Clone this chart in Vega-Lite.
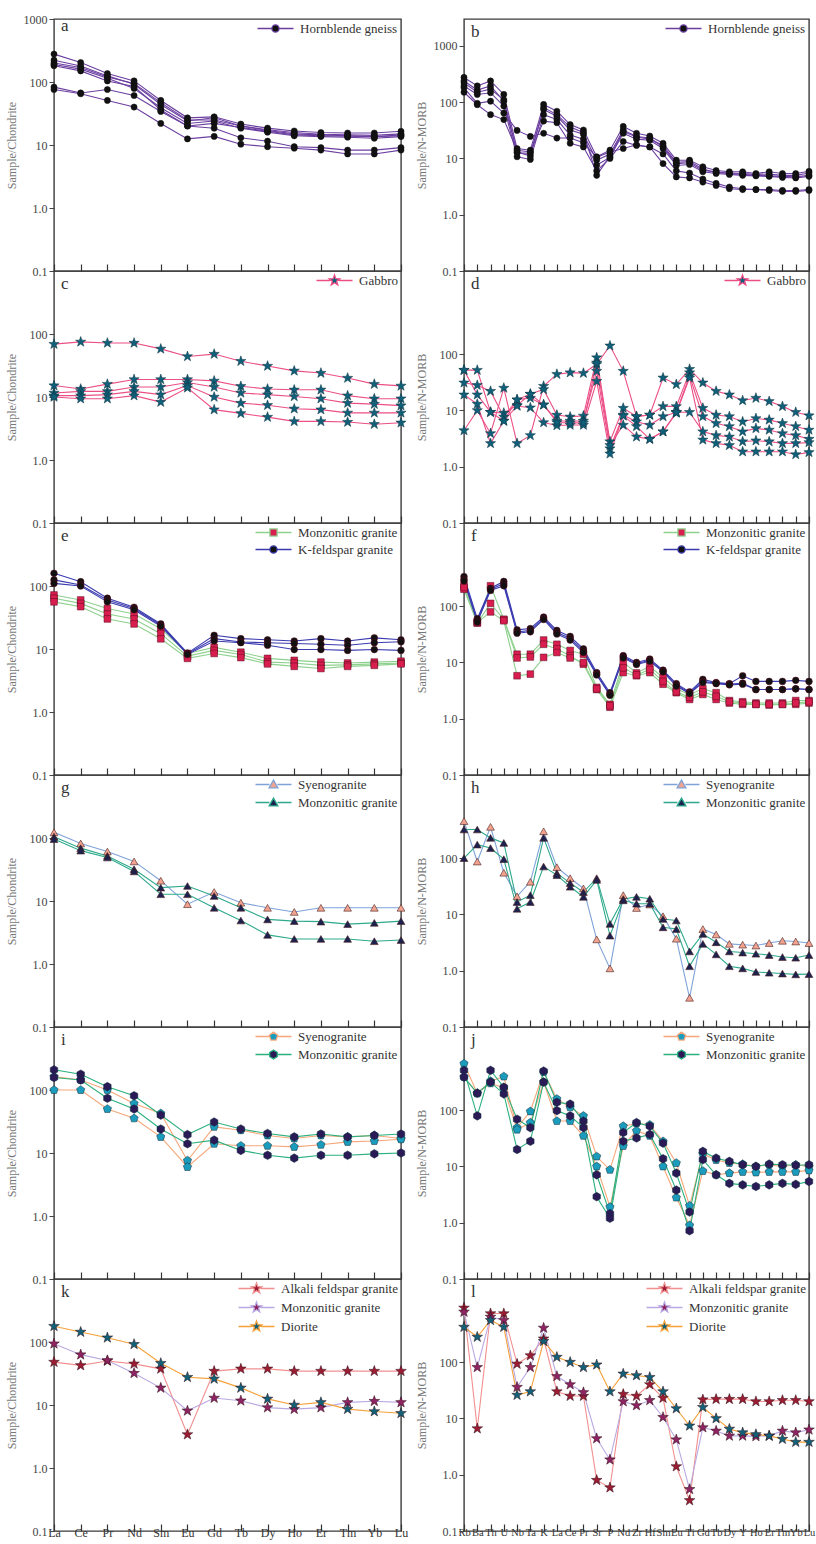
{
"$schema":"https://vega.github.io/schema/vega-lite/v6.json",
"padding":{"left":4,"top":12,"right":4,"bottom":4},
"columns":2,
"spacing":{"row":0,"column":63},
"bounds":"flush",
"resolve":{"scale":{"x":"independent","y":"independent","color":"independent","fill":"independent","shape":"independent","stroke":"independent"}},
"config":{
 "font":"Liberation Serif",
 "view":{"stroke":"#3a3a3a","strokeWidth":1.4},
 "axis":{"domain":false,"grid":false,"labelFont":"Liberation Serif","titleFont":"Liberation Serif"},
 "axisX":{"title":null,"tickSize":-7,"tickColor":"#333","tickWidth":1.2,"labelFontSize":12,"labelColor":"#333","labelAngle":0,"labelPadding":3,"labelOverlap":false},
 "axisY":{"tickSize":5,"tickColor":"#444","labelFontSize":12,"labelColor":"#444","labelPadding":2,"minExtent":32,"maxExtent":32,"titlePadding":4,"titleColor":"#777","titleFontSize":12,"titleFontWeight":"normal","labelExpr":"datum.value < 0.5 ? '0.1' : datum.value < 5 ? '1.0' : datum.value < 50 ? '10' : datum.value < 500 ? '100' : '1000'"},
 "legend":{"orient":"top-right","offset":3,"padding":0,"labelFont":"Liberation Serif","labelFontSize":13,"labelColor":"#333","symbolSize":64,"labelOffset":18,"rowPadding":3,"symbolOpacity":1,"symbolStrokeWidth":1.3,"labelLimit":260},
 "title":{"anchor":"start","frame":"group","offset":-22,"dx":7,"fontSize":17,"fontWeight":"normal","font":"Liberation Serif","color":"#333"}
},
"datasets":{
"a":[
{"g":"H","s":1,"e":"La","v":277},{"g":"H","s":1,"e":"Ce","v":204},{"g":"H","s":1,"e":"Pr","v":136},{"g":"H","s":1,"e":"Nd","v":104},{"g":"H","s":1,"e":"Sm","v":51},{"g":"H","s":1,"e":"Eu","v":27},{"g":"H","s":1,"e":"Gd","v":28},{"g":"H","s":1,"e":"Tb","v":21.5},{"g":"H","s":1,"e":"Dy","v":18.5},{"g":"H","s":1,"e":"Ho","v":16.7},{"g":"H","s":1,"e":"Er","v":15.8},{"g":"H","s":1,"e":"Tm","v":15.5},{"g":"H","s":1,"e":"Yb","v":15.5},{"g":"H","s":1,"e":"Lu","v":16.5},
{"g":"H","s":2,"e":"La","v":222},{"g":"H","s":2,"e":"Ce","v":180},{"g":"H","s":2,"e":"Pr","v":125},{"g":"H","s":2,"e":"Nd","v":92},{"g":"H","s":2,"e":"Sm","v":44},{"g":"H","s":2,"e":"Eu","v":24},{"g":"H","s":2,"e":"Gd","v":27},{"g":"H","s":2,"e":"Tb","v":20},{"g":"H","s":2,"e":"Dy","v":17.5},{"g":"H","s":2,"e":"Ho","v":15.8},{"g":"H","s":2,"e":"Er","v":14.8},{"g":"H","s":2,"e":"Tm","v":14.5},{"g":"H","s":2,"e":"Yb","v":14.2},{"g":"H","s":2,"e":"Lu","v":15},
{"g":"H","s":3,"e":"La","v":190},{"g":"H","s":3,"e":"Ce","v":160},{"g":"H","s":3,"e":"Pr","v":115},{"g":"H","s":3,"e":"Nd","v":79},{"g":"H","s":3,"e":"Sm","v":39},{"g":"H","s":3,"e":"Eu","v":22},{"g":"H","s":3,"e":"Gd","v":24},{"g":"H","s":3,"e":"Tb","v":18.5},{"g":"H","s":3,"e":"Dy","v":16},{"g":"H","s":3,"e":"Ho","v":14},{"g":"H","s":3,"e":"Er","v":13.6},{"g":"H","s":3,"e":"Tm","v":13.3},{"g":"H","s":3,"e":"Yb","v":12.8},{"g":"H","s":3,"e":"Lu","v":13.6},
{"g":"H","s":4,"e":"La","v":181},{"g":"H","s":4,"e":"Ce","v":150},{"g":"H","s":4,"e":"Pr","v":104},{"g":"H","s":4,"e":"Nd","v":85},{"g":"H","s":4,"e":"Sm","v":36},{"g":"H","s":4,"e":"Eu","v":20},{"g":"H","s":4,"e":"Gd","v":22},{"g":"H","s":4,"e":"Tb","v":19},{"g":"H","s":4,"e":"Dy","v":16.5},{"g":"H","s":4,"e":"Ho","v":14.5},{"g":"H","s":4,"e":"Er","v":14},{"g":"H","s":4,"e":"Tm","v":13.8},{"g":"H","s":4,"e":"Yb","v":13.5},{"g":"H","s":4,"e":"Lu","v":14.5},
{"g":"H","s":5,"e":"La","v":200},{"g":"H","s":5,"e":"Ce","v":170},{"g":"H","s":5,"e":"Pr","v":120},{"g":"H","s":5,"e":"Nd","v":95},{"g":"H","s":5,"e":"Sm","v":47},{"g":"H","s":5,"e":"Eu","v":25},{"g":"H","s":5,"e":"Gd","v":25},{"g":"H","s":5,"e":"Tb","v":20},{"g":"H","s":5,"e":"Dy","v":17},{"g":"H","s":5,"e":"Ho","v":15},{"g":"H","s":5,"e":"Er","v":14.5},{"g":"H","s":5,"e":"Tm","v":14},{"g":"H","s":5,"e":"Yb","v":13.5},{"g":"H","s":5,"e":"Lu","v":14},
{"g":"H","s":6,"e":"La","v":83},{"g":"H","s":6,"e":"Ce","v":67},{"g":"H","s":6,"e":"Pr","v":76},{"g":"H","s":6,"e":"Nd","v":61},{"g":"H","s":6,"e":"Sm","v":34},{"g":"H","s":6,"e":"Eu","v":20},{"g":"H","s":6,"e":"Gd","v":18.5},{"g":"H","s":6,"e":"Tb","v":13},{"g":"H","s":6,"e":"Dy","v":11.5},{"g":"H","s":6,"e":"Ho","v":9.4},{"g":"H","s":6,"e":"Er","v":9.1},{"g":"H","s":6,"e":"Tm","v":8.3},{"g":"H","s":6,"e":"Yb","v":8.3},{"g":"H","s":6,"e":"Lu","v":9.1},
{"g":"H","s":7,"e":"La","v":76},{"g":"H","s":7,"e":"Ce","v":65},{"g":"H","s":7,"e":"Pr","v":51},{"g":"H","s":7,"e":"Nd","v":40},{"g":"H","s":7,"e":"Sm","v":22},{"g":"H","s":7,"e":"Eu","v":12.5},{"g":"H","s":7,"e":"Gd","v":13.7},{"g":"H","s":7,"e":"Tb","v":10.3},{"g":"H","s":7,"e":"Dy","v":9.4},{"g":"H","s":7,"e":"Ho","v":8.9},{"g":"H","s":7,"e":"Er","v":8.3},{"g":"H","s":7,"e":"Tm","v":7.2},{"g":"H","s":7,"e":"Yb","v":7.2},{"g":"H","s":7,"e":"Lu","v":8.3}
],
"b":[
{"g":"H","s":1,"e":"Rb","v":275},{"g":"H","s":1,"e":"Ba","v":194},{"g":"H","s":1,"e":"Th","v":238},{"g":"H","s":1,"e":"U","v":137},{"g":"H","s":1,"e":"Nb","v":15},{"g":"H","s":1,"e":"Ta","v":14},{"g":"H","s":1,"e":"K","v":91},{"g":"H","s":1,"e":"La","v":69},{"g":"H","s":1,"e":"Ce","v":40},{"g":"H","s":1,"e":"Pr","v":32},{"g":"H","s":1,"e":"Sr","v":10.7},{"g":"H","s":1,"e":"P","v":14},{"g":"H","s":1,"e":"Nd","v":37},{"g":"H","s":1,"e":"Zr","v":28},{"g":"H","s":1,"e":"Hf","v":25},{"g":"H","s":1,"e":"Sm","v":18.6},{"g":"H","s":1,"e":"Eu","v":9.3},{"g":"H","s":1,"e":"Ti","v":9.3},{"g":"H","s":1,"e":"Gd","v":7.1},{"g":"H","s":1,"e":"Tb","v":6.1},{"g":"H","s":1,"e":"Dy","v":5.8},{"g":"H","s":1,"e":"Y","v":5.8},{"g":"H","s":1,"e":"Ho","v":5.4},{"g":"H","s":1,"e":"Er","v":5.8},{"g":"H","s":1,"e":"Tm","v":5.4},{"g":"H","s":1,"e":"Yb","v":5.4},{"g":"H","s":1,"e":"Lu","v":5.9},
{"g":"H","s":2,"e":"Rb","v":238},{"g":"H","s":2,"e":"Ba","v":164},{"g":"H","s":2,"e":"Th","v":194},{"g":"H","s":2,"e":"U","v":104},{"g":"H","s":2,"e":"Nb","v":12.6},{"g":"H","s":2,"e":"Ta","v":12.3},{"g":"H","s":2,"e":"K","v":74},{"g":"H","s":2,"e":"La","v":56},{"g":"H","s":2,"e":"Ce","v":32},{"g":"H","s":2,"e":"Pr","v":27},{"g":"H","s":2,"e":"Sr","v":9.3},{"g":"H","s":2,"e":"P","v":12},{"g":"H","s":2,"e":"Nd","v":32},{"g":"H","s":2,"e":"Zr","v":24.6},{"g":"H","s":2,"e":"Hf","v":23},{"g":"H","s":2,"e":"Sm","v":16},{"g":"H","s":2,"e":"Eu","v":8.1},{"g":"H","s":2,"e":"Ti","v":8.4},{"g":"H","s":2,"e":"Gd","v":6.1},{"g":"H","s":2,"e":"Tb","v":5.8},{"g":"H","s":2,"e":"Dy","v":5.4},{"g":"H","s":2,"e":"Y","v":5.2},{"g":"H","s":2,"e":"Ho","v":5.0},{"g":"H","s":2,"e":"Er","v":4.9},{"g":"H","s":2,"e":"Tm","v":4.8},{"g":"H","s":2,"e":"Yb","v":4.7},{"g":"H","s":2,"e":"Lu","v":5.0},
{"g":"H","s":3,"e":"Rb","v":194},{"g":"H","s":3,"e":"Ba","v":137},{"g":"H","s":3,"e":"Th","v":147},{"g":"H","s":3,"e":"U","v":85},{"g":"H","s":3,"e":"Nb","v":10.7},{"g":"H","s":3,"e":"Ta","v":9.6},{"g":"H","s":3,"e":"K","v":60},{"g":"H","s":3,"e":"La","v":49},{"g":"H","s":3,"e":"Ce","v":26},{"g":"H","s":3,"e":"Pr","v":22},{"g":"H","s":3,"e":"Sr","v":7.6},{"g":"H","s":3,"e":"P","v":10.5},{"g":"H","s":3,"e":"Nd","v":28},{"g":"H","s":3,"e":"Zr","v":22},{"g":"H","s":3,"e":"Hf","v":21},{"g":"H","s":3,"e":"Sm","v":15},{"g":"H","s":3,"e":"Eu","v":7.5},{"g":"H","s":3,"e":"Ti","v":7.8},{"g":"H","s":3,"e":"Gd","v":5.8},{"g":"H","s":3,"e":"Tb","v":5.4},{"g":"H","s":3,"e":"Dy","v":5.2},{"g":"H","s":3,"e":"Y","v":5.0},{"g":"H","s":3,"e":"Ho","v":4.9},{"g":"H","s":3,"e":"Er","v":4.8},{"g":"H","s":3,"e":"Tm","v":4.6},{"g":"H","s":3,"e":"Yb","v":4.5},{"g":"H","s":3,"e":"Lu","v":4.8},
{"g":"H","s":4,"e":"Rb","v":220},{"g":"H","s":4,"e":"Ba","v":150},{"g":"H","s":4,"e":"Th","v":170},{"g":"H","s":4,"e":"U","v":110},{"g":"H","s":4,"e":"Nb","v":13},{"g":"H","s":4,"e":"Ta","v":11},{"g":"H","s":4,"e":"K","v":80},{"g":"H","s":4,"e":"La","v":60},{"g":"H","s":4,"e":"Ce","v":36},{"g":"H","s":4,"e":"Pr","v":29},{"g":"H","s":4,"e":"Sr","v":5},{"g":"H","s":4,"e":"P","v":11},{"g":"H","s":4,"e":"Nd","v":30},{"g":"H","s":4,"e":"Zr","v":24},{"g":"H","s":4,"e":"Hf","v":22},{"g":"H","s":4,"e":"Sm","v":17},{"g":"H","s":4,"e":"Eu","v":8.5},{"g":"H","s":4,"e":"Ti","v":8.8},{"g":"H","s":4,"e":"Gd","v":6.5},{"g":"H","s":4,"e":"Tb","v":5.6},{"g":"H","s":4,"e":"Dy","v":5.5},{"g":"H","s":4,"e":"Y","v":5.4},{"g":"H","s":4,"e":"Ho","v":5.2},{"g":"H","s":4,"e":"Er","v":5.3},{"g":"H","s":4,"e":"Tm","v":5.0},{"g":"H","s":4,"e":"Yb","v":5.0},{"g":"H","s":4,"e":"Lu","v":5.5},
{"g":"H","s":5,"e":"Rb","v":180},{"g":"H","s":5,"e":"Ba","v":95},{"g":"H","s":5,"e":"Th","v":104},{"g":"H","s":5,"e":"U","v":64},{"g":"H","s":5,"e":"Nb","v":31.5},{"g":"H","s":5,"e":"Ta","v":24.6},{"g":"H","s":5,"e":"K","v":28},{"g":"H","s":5,"e":"La","v":23},{"g":"H","s":5,"e":"Ce","v":23},{"g":"H","s":5,"e":"Pr","v":19},{"g":"H","s":5,"e":"Sr","v":10.5},{"g":"H","s":5,"e":"P","v":13},{"g":"H","s":5,"e":"Nd","v":15},{"g":"H","s":5,"e":"Zr","v":17.5},{"g":"H","s":5,"e":"Hf","v":16},{"g":"H","s":5,"e":"Sm","v":8.1},{"g":"H","s":5,"e":"Eu","v":4.7},{"g":"H","s":5,"e":"Ti","v":4.5},{"g":"H","s":5,"e":"Gd","v":3.8},{"g":"H","s":5,"e":"Tb","v":3.3},{"g":"H","s":5,"e":"Dy","v":2.9},{"g":"H","s":5,"e":"Y","v":2.8},{"g":"H","s":5,"e":"Ho","v":2.8},{"g":"H","s":5,"e":"Er","v":2.8},{"g":"H","s":5,"e":"Tm","v":2.7},{"g":"H","s":5,"e":"Yb","v":2.7},{"g":"H","s":5,"e":"Lu","v":2.8},
{"g":"H","s":6,"e":"Rb","v":150},{"g":"H","s":6,"e":"Ba","v":90},{"g":"H","s":6,"e":"Th","v":60},{"g":"H","s":6,"e":"U","v":49},{"g":"H","s":6,"e":"Nb","v":14},{"g":"H","s":6,"e":"Ta","v":13},{"g":"H","s":6,"e":"K","v":46},{"g":"H","s":6,"e":"La","v":43},{"g":"H","s":6,"e":"Ce","v":18.6},{"g":"H","s":6,"e":"Pr","v":16},{"g":"H","s":6,"e":"Sr","v":6},{"g":"H","s":6,"e":"P","v":10},{"g":"H","s":6,"e":"Nd","v":20},{"g":"H","s":6,"e":"Zr","v":17},{"g":"H","s":6,"e":"Hf","v":16},{"g":"H","s":6,"e":"Sm","v":12},{"g":"H","s":6,"e":"Eu","v":6},{"g":"H","s":6,"e":"Ti","v":5.5},{"g":"H","s":6,"e":"Gd","v":4.3},{"g":"H","s":6,"e":"Tb","v":3.6},{"g":"H","s":6,"e":"Dy","v":3.1},{"g":"H","s":6,"e":"Y","v":2.9},{"g":"H","s":6,"e":"Ho","v":2.8},{"g":"H","s":6,"e":"Er","v":2.7},{"g":"H","s":6,"e":"Tm","v":2.6},{"g":"H","s":6,"e":"Yb","v":2.6},{"g":"H","s":6,"e":"Lu","v":2.7}
],
"c":[
{"g":"G","s":1,"e":"La","v":69},{"g":"G","s":1,"e":"Ce","v":75},{"g":"G","s":1,"e":"Pr","v":72},{"g":"G","s":1,"e":"Nd","v":72},{"g":"G","s":1,"e":"Sm","v":58},{"g":"G","s":1,"e":"Eu","v":44},{"g":"G","s":1,"e":"Gd","v":48},{"g":"G","s":1,"e":"Tb","v":37},{"g":"G","s":1,"e":"Dy","v":31},{"g":"G","s":1,"e":"Ho","v":26},{"g":"G","s":1,"e":"Er","v":24},{"g":"G","s":1,"e":"Tm","v":20},{"g":"G","s":1,"e":"Yb","v":16},{"g":"G","s":1,"e":"Lu","v":15},
{"g":"G","s":2,"e":"La","v":15.2},{"g":"G","s":2,"e":"Ce","v":13.4},{"g":"G","s":2,"e":"Pr","v":16},{"g":"G","s":2,"e":"Nd","v":19},{"g":"G","s":2,"e":"Sm","v":19},{"g":"G","s":2,"e":"Eu","v":19},{"g":"G","s":2,"e":"Gd","v":18},{"g":"G","s":2,"e":"Tb","v":14.8},{"g":"G","s":2,"e":"Dy","v":13.4},{"g":"G","s":2,"e":"Ho","v":13},{"g":"G","s":2,"e":"Er","v":13},{"g":"G","s":2,"e":"Tm","v":10.5},{"g":"G","s":2,"e":"Yb","v":9.4},{"g":"G","s":2,"e":"Lu","v":9.4},
{"g":"G","s":3,"e":"La","v":11.6},{"g":"G","s":3,"e":"Ce","v":12.3},{"g":"G","s":3,"e":"Pr","v":12.3},{"g":"G","s":3,"e":"Nd","v":14.4},{"g":"G","s":3,"e":"Sm","v":14.4},{"g":"G","s":3,"e":"Eu","v":17},{"g":"G","s":3,"e":"Gd","v":14.4},{"g":"G","s":3,"e":"Tb","v":11.6},{"g":"G","s":3,"e":"Dy","v":10.9},{"g":"G","s":3,"e":"Ho","v":10.2},{"g":"G","s":3,"e":"Er","v":9.4},{"g":"G","s":3,"e":"Tm","v":8},{"g":"G","s":3,"e":"Yb","v":7.7},{"g":"G","s":3,"e":"Lu","v":7.3},
{"g":"G","s":4,"e":"La","v":10.5},{"g":"G","s":4,"e":"Ce","v":10.5},{"g":"G","s":4,"e":"Pr","v":10.9},{"g":"G","s":4,"e":"Nd","v":12.3},{"g":"G","s":4,"e":"Sm","v":10.9},{"g":"G","s":4,"e":"Eu","v":15.2},{"g":"G","s":4,"e":"Gd","v":10},{"g":"G","s":4,"e":"Tb","v":8},{"g":"G","s":4,"e":"Dy","v":7.4},{"g":"G","s":4,"e":"Ho","v":6.5},{"g":"G","s":4,"e":"Er","v":6.3},{"g":"G","s":4,"e":"Tm","v":5.6},{"g":"G","s":4,"e":"Yb","v":5.6},{"g":"G","s":4,"e":"Lu","v":5.6},
{"g":"G","s":5,"e":"La","v":10},{"g":"G","s":5,"e":"Ce","v":9.4},{"g":"G","s":5,"e":"Pr","v":9.4},{"g":"G","s":5,"e":"Nd","v":10.5},{"g":"G","s":5,"e":"Sm","v":8.3},{"g":"G","s":5,"e":"Eu","v":14},{"g":"G","s":5,"e":"Gd","v":6.3},{"g":"G","s":5,"e":"Tb","v":5.5},{"g":"G","s":5,"e":"Dy","v":4.8},{"g":"G","s":5,"e":"Ho","v":4.1},{"g":"G","s":5,"e":"Er","v":4.1},{"g":"G","s":5,"e":"Tm","v":4},{"g":"G","s":5,"e":"Yb","v":3.7},{"g":"G","s":5,"e":"Lu","v":3.9}
],
"d":[
{"g":"G","s":1,"e":"Rb","v":4.4},{"g":"G","s":1,"e":"Ba","v":10},{"g":"G","s":1,"e":"Th","v":3.9},{"g":"G","s":1,"e":"U","v":25},{"g":"G","s":1,"e":"Nb","v":2.6},{"g":"G","s":1,"e":"Ta","v":3.6},{"g":"G","s":1,"e":"K","v":27},{"g":"G","s":1,"e":"La","v":44},{"g":"G","s":1,"e":"Ce","v":47},{"g":"G","s":1,"e":"Pr","v":46},{"g":"G","s":1,"e":"Sr","v":66},{"g":"G","s":1,"e":"P","v":141},{"g":"G","s":1,"e":"Nd","v":50},{"g":"G","s":1,"e":"Zr","v":7.8},{"g":"G","s":1,"e":"Hf","v":8.3},{"g":"G","s":1,"e":"Sm","v":38},{"g":"G","s":1,"e":"Eu","v":29},{"g":"G","s":1,"e":"Ti","v":54},{"g":"G","s":1,"e":"Gd","v":31},{"g":"G","s":1,"e":"Tb","v":22},{"g":"G","s":1,"e":"Dy","v":19},{"g":"G","s":1,"e":"Y","v":15},{"g":"G","s":1,"e":"Ho","v":16.6},{"g":"G","s":1,"e":"Er","v":14.5},{"g":"G","s":1,"e":"Tm","v":11.8},{"g":"G","s":1,"e":"Yb","v":9.3},{"g":"G","s":1,"e":"Lu","v":8.1},
{"g":"G","s":2,"e":"Rb","v":52},{"g":"G","s":2,"e":"Ba","v":52},{"g":"G","s":2,"e":"Th","v":9.3},{"g":"G","s":2,"e":"U","v":9},{"g":"G","s":2,"e":"Nb","v":12.3},{"g":"G","s":2,"e":"Ta","v":19.5},{"g":"G","s":2,"e":"K","v":23.6},{"g":"G","s":2,"e":"La","v":8.3},{"g":"G","s":2,"e":"Ce","v":7.7},{"g":"G","s":2,"e":"Pr","v":8},{"g":"G","s":2,"e":"Sr","v":87},{"g":"G","s":2,"e":"P","v":2.8},{"g":"G","s":2,"e":"Nd","v":11},{"g":"G","s":2,"e":"Zr","v":7.8},{"g":"G","s":2,"e":"Hf","v":8.3},{"g":"G","s":2,"e":"Sm","v":11.8},{"g":"G","s":2,"e":"Eu","v":11.8},{"g":"G","s":2,"e":"Ti","v":47},{"g":"G","s":2,"e":"Gd","v":11},{"g":"G","s":2,"e":"Tb","v":8.3},{"g":"G","s":2,"e":"Dy","v":7.8},{"g":"G","s":2,"e":"Y","v":6.3},{"g":"G","s":2,"e":"Ho","v":7.2},{"g":"G","s":2,"e":"Er","v":6.8},{"g":"G","s":2,"e":"Tm","v":5.9},{"g":"G","s":2,"e":"Yb","v":5.2},{"g":"G","s":2,"e":"Lu","v":4.5},
{"g":"G","s":3,"e":"Rb","v":31},{"g":"G","s":3,"e":"Ba","v":28},{"g":"G","s":3,"e":"Th","v":22},{"g":"G","s":3,"e":"U","v":7.7},{"g":"G","s":3,"e":"Nb","v":15.5},{"g":"G","s":3,"e":"Ta","v":16.6},{"g":"G","s":3,"e":"K","v":12.6},{"g":"G","s":3,"e":"La","v":6.5},{"g":"G","s":3,"e":"Ce","v":6.5},{"g":"G","s":3,"e":"Pr","v":6.5},{"g":"G","s":3,"e":"Sr","v":50},{"g":"G","s":3,"e":"P","v":2.1},{"g":"G","s":3,"e":"Nd","v":8.3},{"g":"G","s":3,"e":"Zr","v":6.3},{"g":"G","s":3,"e":"Hf","v":5.5},{"g":"G","s":3,"e":"Sm","v":7.8},{"g":"G","s":3,"e":"Eu","v":9.3},{"g":"G","s":3,"e":"Ti","v":41},{"g":"G","s":3,"e":"Gd","v":7.8},{"g":"G","s":3,"e":"Tb","v":5.9},{"g":"G","s":3,"e":"Dy","v":5.2},{"g":"G","s":3,"e":"Y","v":4.2},{"g":"G","s":3,"e":"Ho","v":4.8},{"g":"G","s":3,"e":"Er","v":4.5},{"g":"G","s":3,"e":"Tm","v":3.9},{"g":"G","s":3,"e":"Yb","v":3.6},{"g":"G","s":3,"e":"Lu","v":3.1},
{"g":"G","s":4,"e":"Rb","v":19},{"g":"G","s":4,"e":"Ba","v":13},{"g":"G","s":4,"e":"Th","v":2.6},{"g":"G","s":4,"e":"U","v":6.5},{"g":"G","s":4,"e":"Nb","v":12},{"g":"G","s":4,"e":"Ta","v":11.2},{"g":"G","s":4,"e":"K","v":6.1},{"g":"G","s":4,"e":"La","v":5.4},{"g":"G","s":4,"e":"Ce","v":5.5},{"g":"G","s":4,"e":"Pr","v":5.5},{"g":"G","s":4,"e":"Sr","v":33},{"g":"G","s":4,"e":"P","v":1.7},{"g":"G","s":4,"e":"Nd","v":8},{"g":"G","s":4,"e":"Zr","v":5.2},{"g":"G","s":4,"e":"Hf","v":3.1},{"g":"G","s":4,"e":"Sm","v":4.2},{"g":"G","s":4,"e":"Eu","v":9},{"g":"G","s":4,"e":"Ti","v":38},{"g":"G","s":4,"e":"Gd","v":3},{"g":"G","s":4,"e":"Tb","v":2.6},{"g":"G","s":4,"e":"Dy","v":2.4},{"g":"G","s":4,"e":"Y","v":1.85},{"g":"G","s":4,"e":"Ho","v":1.85},{"g":"G","s":4,"e":"Er","v":1.85},{"g":"G","s":4,"e":"Tm","v":1.85},{"g":"G","s":4,"e":"Yb","v":1.65},{"g":"G","s":4,"e":"Lu","v":1.8},
{"g":"G","s":5,"e":"Rb","v":52},{"g":"G","s":5,"e":"Ba","v":19},{"g":"G","s":5,"e":"Th","v":9.3},{"g":"G","s":5,"e":"U","v":6.5},{"g":"G","s":5,"e":"Nb","v":15.5},{"g":"G","s":5,"e":"Ta","v":19.5},{"g":"G","s":5,"e":"K","v":12.6},{"g":"G","s":5,"e":"La","v":6.1},{"g":"G","s":5,"e":"Ce","v":6},{"g":"G","s":5,"e":"Pr","v":6},{"g":"G","s":5,"e":"Sr","v":70},{"g":"G","s":5,"e":"P","v":2.4},{"g":"G","s":5,"e":"Nd","v":5.5},{"g":"G","s":5,"e":"Zr","v":3.4},{"g":"G","s":5,"e":"Hf","v":3.1},{"g":"G","s":5,"e":"Sm","v":4.2},{"g":"G","s":5,"e":"Eu","v":9.3},{"g":"G","s":5,"e":"Ti","v":9.3},{"g":"G","s":5,"e":"Gd","v":4.2},{"g":"G","s":5,"e":"Tb","v":3.6},{"g":"G","s":5,"e":"Dy","v":3.4},{"g":"G","s":5,"e":"Y","v":2.8},{"g":"G","s":5,"e":"Ho","v":2.9},{"g":"G","s":5,"e":"Er","v":2.8},{"g":"G","s":5,"e":"Tm","v":2.6},{"g":"G","s":5,"e":"Yb","v":2.6},{"g":"G","s":5,"e":"Lu","v":2.7}
],
"e":[
{"g":"M","s":1,"e":"La","v":72},{"g":"M","s":1,"e":"Ce","v":60},{"g":"M","s":1,"e":"Pr","v":44},{"g":"M","s":1,"e":"Nd","v":36},{"g":"M","s":1,"e":"Sm","v":21},{"g":"M","s":1,"e":"Eu","v":8.5},{"g":"M","s":1,"e":"Gd","v":10.6},{"g":"M","s":1,"e":"Tb","v":8.9},{"g":"M","s":1,"e":"Dy","v":7.1},{"g":"M","s":1,"e":"Ho","v":6.6},{"g":"M","s":1,"e":"Er","v":6.2},{"g":"M","s":1,"e":"Tm","v":6.0},{"g":"M","s":1,"e":"Yb","v":6.2},{"g":"M","s":1,"e":"Lu","v":6.4},
{"g":"M","s":2,"e":"La","v":64},{"g":"M","s":2,"e":"Ce","v":53},{"g":"M","s":2,"e":"Pr","v":36},{"g":"M","s":2,"e":"Nd","v":30},{"g":"M","s":2,"e":"Sm","v":17.5},{"g":"M","s":2,"e":"Eu","v":7.7},{"g":"M","s":2,"e":"Gd","v":9.5},{"g":"M","s":2,"e":"Tb","v":8.2},{"g":"M","s":2,"e":"Dy","v":6.2},{"g":"M","s":2,"e":"Ho","v":6.0},{"g":"M","s":2,"e":"Er","v":5.5},{"g":"M","s":2,"e":"Tm","v":5.6},{"g":"M","s":2,"e":"Yb","v":5.8},{"g":"M","s":2,"e":"Lu","v":6.0},
{"g":"M","s":3,"e":"La","v":56},{"g":"M","s":3,"e":"Ce","v":47},{"g":"M","s":3,"e":"Pr","v":30},{"g":"M","s":3,"e":"Nd","v":25},{"g":"M","s":3,"e":"Sm","v":14.5},{"g":"M","s":3,"e":"Eu","v":7.1},{"g":"M","s":3,"e":"Gd","v":8.5},{"g":"M","s":3,"e":"Tb","v":7.3},{"g":"M","s":3,"e":"Dy","v":5.8},{"g":"M","s":3,"e":"Ho","v":5.3},{"g":"M","s":3,"e":"Er","v":4.9},{"g":"M","s":3,"e":"Tm","v":5.3},{"g":"M","s":3,"e":"Yb","v":5.5},{"g":"M","s":3,"e":"Lu","v":5.8},
{"g":"K","s":4,"e":"La","v":159},{"g":"K","s":4,"e":"Ce","v":117},{"g":"K","s":4,"e":"Pr","v":64},{"g":"K","s":4,"e":"Nd","v":46},{"g":"K","s":4,"e":"Sm","v":25},{"g":"K","s":4,"e":"Eu","v":8.6},{"g":"K","s":4,"e":"Gd","v":16.5},{"g":"K","s":4,"e":"Tb","v":14.6},{"g":"K","s":4,"e":"Dy","v":14},{"g":"K","s":4,"e":"Ho","v":13.4},{"g":"K","s":4,"e":"Er","v":14.6},{"g":"K","s":4,"e":"Tm","v":13.4},{"g":"K","s":4,"e":"Yb","v":15},{"g":"K","s":4,"e":"Lu","v":14},
{"g":"K","s":5,"e":"La","v":125},{"g":"K","s":5,"e":"Ce","v":104},{"g":"K","s":5,"e":"Pr","v":60},{"g":"K","s":5,"e":"Nd","v":44},{"g":"K","s":5,"e":"Sm","v":24},{"g":"K","s":5,"e":"Eu","v":8.4},{"g":"K","s":5,"e":"Gd","v":14.6},{"g":"K","s":5,"e":"Tb","v":12.9},{"g":"K","s":5,"e":"Dy","v":12.6},{"g":"K","s":5,"e":"Ho","v":12.2},{"g":"K","s":5,"e":"Er","v":11.9},{"g":"K","s":5,"e":"Tm","v":11.5},{"g":"K","s":5,"e":"Yb","v":12.6},{"g":"K","s":5,"e":"Lu","v":13},
{"g":"K","s":6,"e":"La","v":110},{"g":"K","s":6,"e":"Ce","v":100},{"g":"K","s":6,"e":"Pr","v":56},{"g":"K","s":6,"e":"Nd","v":42},{"g":"K","s":6,"e":"Sm","v":23},{"g":"K","s":6,"e":"Eu","v":8.2},{"g":"K","s":6,"e":"Gd","v":13.4},{"g":"K","s":6,"e":"Tb","v":12.6},{"g":"K","s":6,"e":"Dy","v":11.5},{"g":"K","s":6,"e":"Ho","v":9.8},{"g":"K","s":6,"e":"Er","v":9.8},{"g":"K","s":6,"e":"Tm","v":9.5},{"g":"K","s":6,"e":"Yb","v":9.8},{"g":"K","s":6,"e":"Lu","v":9.5}
],
"f":[
{"g":"M","s":1,"e":"Rb","v":230},{"g":"M","s":1,"e":"Ba","v":52},{"g":"M","s":1,"e":"Th","v":230},{"g":"M","s":1,"e":"U","v":58},{"g":"M","s":1,"e":"Nb","v":14},{"g":"M","s":1,"e":"Ta","v":14},{"g":"M","s":1,"e":"K","v":25},{"g":"M","s":1,"e":"La","v":21},{"g":"M","s":1,"e":"Ce","v":16.3},{"g":"M","s":1,"e":"Pr","v":14},{"g":"M","s":1,"e":"Sr","v":3.6},{"g":"M","s":1,"e":"P","v":1.8},{"g":"M","s":1,"e":"Nd","v":10},{"g":"M","s":1,"e":"Zr","v":6.5},{"g":"M","s":1,"e":"Hf","v":8.5},{"g":"M","s":1,"e":"Sm","v":5.4},{"g":"M","s":1,"e":"Eu","v":3.4},{"g":"M","s":1,"e":"Ti","v":2.7},{"g":"M","s":1,"e":"Gd","v":3.4},{"g":"M","s":1,"e":"Tb","v":2.9},{"g":"M","s":1,"e":"Dy","v":2.1},{"g":"M","s":1,"e":"Y","v":2.0},{"g":"M","s":1,"e":"Ho","v":1.9},{"g":"M","s":1,"e":"Er","v":1.9},{"g":"M","s":1,"e":"Tm","v":1.9},{"g":"M","s":1,"e":"Yb","v":2.1},{"g":"M","s":1,"e":"Lu","v":2.1},
{"g":"M","s":2,"e":"Rb","v":200},{"g":"M","s":2,"e":"Ba","v":50},{"g":"M","s":2,"e":"Th","v":112},{"g":"M","s":2,"e":"U","v":58},{"g":"M","s":2,"e":"Nb","v":12},{"g":"M","s":2,"e":"Ta","v":12.5},{"g":"M","s":2,"e":"K","v":21},{"g":"M","s":2,"e":"La","v":17.4},{"g":"M","s":2,"e":"Ce","v":13.2},{"g":"M","s":2,"e":"Pr","v":9.3},{"g":"M","s":2,"e":"Sr","v":3.3},{"g":"M","s":2,"e":"P","v":1.6},{"g":"M","s":2,"e":"Nd","v":6.6},{"g":"M","s":2,"e":"Zr","v":5.8},{"g":"M","s":2,"e":"Hf","v":6.6},{"g":"M","s":2,"e":"Sm","v":4.1},{"g":"M","s":2,"e":"Eu","v":2.9},{"g":"M","s":2,"e":"Ti","v":2.2},{"g":"M","s":2,"e":"Gd","v":2.7},{"g":"M","s":2,"e":"Tb","v":2.2},{"g":"M","s":2,"e":"Dy","v":1.9},{"g":"M","s":2,"e":"Y","v":1.8},{"g":"M","s":2,"e":"Ho","v":1.8},{"g":"M","s":2,"e":"Er","v":1.75},{"g":"M","s":2,"e":"Tm","v":1.8},{"g":"M","s":2,"e":"Yb","v":1.8},{"g":"M","s":2,"e":"Lu","v":1.9},
{"g":"M","s":3,"e":"Rb","v":215},{"g":"M","s":3,"e":"Ba","v":51},{"g":"M","s":3,"e":"Th","v":79},{"g":"M","s":3,"e":"U","v":55},{"g":"M","s":3,"e":"Nb","v":5.8},{"g":"M","s":3,"e":"Ta","v":6.2},{"g":"M","s":3,"e":"K","v":12.3},{"g":"M","s":3,"e":"La","v":15},{"g":"M","s":3,"e":"Ce","v":12},{"g":"M","s":3,"e":"Pr","v":10},{"g":"M","s":3,"e":"Sr","v":3.4},{"g":"M","s":3,"e":"P","v":1.7},{"g":"M","s":3,"e":"Nd","v":8},{"g":"M","s":3,"e":"Zr","v":6.0},{"g":"M","s":3,"e":"Hf","v":7.5},{"g":"M","s":3,"e":"Sm","v":4.6},{"g":"M","s":3,"e":"Eu","v":3.0},{"g":"M","s":3,"e":"Ti","v":2.4},{"g":"M","s":3,"e":"Gd","v":3.0},{"g":"M","s":3,"e":"Tb","v":2.5},{"g":"M","s":3,"e":"Dy","v":2.0},{"g":"M","s":3,"e":"Y","v":1.9},{"g":"M","s":3,"e":"Ho","v":1.8},{"g":"M","s":3,"e":"Er","v":1.8},{"g":"M","s":3,"e":"Tm","v":1.8},{"g":"M","s":3,"e":"Yb","v":1.9},{"g":"M","s":3,"e":"Lu","v":2.0},
{"g":"K","s":4,"e":"Rb","v":336},{"g":"K","s":4,"e":"Ba","v":60},{"g":"K","s":4,"e":"Th","v":208},{"g":"K","s":4,"e":"U","v":275},{"g":"K","s":4,"e":"Nb","v":38},{"g":"K","s":4,"e":"Ta","v":40},{"g":"K","s":4,"e":"K","v":64},{"g":"K","s":4,"e":"La","v":37},{"g":"K","s":4,"e":"Ce","v":29},{"g":"K","s":4,"e":"Pr","v":17.4},{"g":"K","s":4,"e":"Sr","v":6.6},{"g":"K","s":4,"e":"P","v":2.9},{"g":"K","s":4,"e":"Nd","v":13.2},{"g":"K","s":4,"e":"Zr","v":10},{"g":"K","s":4,"e":"Hf","v":11.5},{"g":"K","s":4,"e":"Sm","v":7.3},{"g":"K","s":4,"e":"Eu","v":4.2},{"g":"K","s":4,"e":"Ti","v":3.0},{"g":"K","s":4,"e":"Gd","v":5.0},{"g":"K","s":4,"e":"Tb","v":4.4},{"g":"K","s":4,"e":"Dy","v":4.2},{"g":"K","s":4,"e":"Y","v":5.8},{"g":"K","s":4,"e":"Ho","v":4.6},{"g":"K","s":4,"e":"Er","v":4.6},{"g":"K","s":4,"e":"Tm","v":4.6},{"g":"K","s":4,"e":"Yb","v":4.8},{"g":"K","s":4,"e":"Lu","v":4.6},
{"g":"K","s":5,"e":"Rb","v":300},{"g":"K","s":5,"e":"Ba","v":56},{"g":"K","s":5,"e":"Th","v":200},{"g":"K","s":5,"e":"U","v":250},{"g":"K","s":5,"e":"Nb","v":35},{"g":"K","s":5,"e":"Ta","v":37},{"g":"K","s":5,"e":"K","v":60},{"g":"K","s":5,"e":"La","v":34},{"g":"K","s":5,"e":"Ce","v":27},{"g":"K","s":5,"e":"Pr","v":16},{"g":"K","s":5,"e":"Sr","v":6.2},{"g":"K","s":5,"e":"P","v":2.7},{"g":"K","s":5,"e":"Nd","v":12.5},{"g":"K","s":5,"e":"Zr","v":9.5},{"g":"K","s":5,"e":"Hf","v":11},{"g":"K","s":5,"e":"Sm","v":7.0},{"g":"K","s":5,"e":"Eu","v":4.0},{"g":"K","s":5,"e":"Ti","v":2.9},{"g":"K","s":5,"e":"Gd","v":4.6},{"g":"K","s":5,"e":"Tb","v":4.3},{"g":"K","s":5,"e":"Dy","v":4.1},{"g":"K","s":5,"e":"Y","v":4.3},{"g":"K","s":5,"e":"Ho","v":3.3},{"g":"K","s":5,"e":"Er","v":3.3},{"g":"K","s":5,"e":"Tm","v":3.3},{"g":"K","s":5,"e":"Yb","v":3.4},{"g":"K","s":5,"e":"Lu","v":3.3},
{"g":"K","s":6,"e":"Rb","v":280},{"g":"K","s":6,"e":"Ba","v":52},{"g":"K","s":6,"e":"Th","v":190},{"g":"K","s":6,"e":"U","v":230},{"g":"K","s":6,"e":"Nb","v":33},{"g":"K","s":6,"e":"Ta","v":35},{"g":"K","s":6,"e":"K","v":58},{"g":"K","s":6,"e":"La","v":32},{"g":"K","s":6,"e":"Ce","v":25},{"g":"K","s":6,"e":"Pr","v":15},{"g":"K","s":6,"e":"Sr","v":6.0},{"g":"K","s":6,"e":"P","v":2.6},{"g":"K","s":6,"e":"Nd","v":12},{"g":"K","s":6,"e":"Zr","v":9.2},{"g":"K","s":6,"e":"Hf","v":10.5},{"g":"K","s":6,"e":"Sm","v":6.8},{"g":"K","s":6,"e":"Eu","v":3.8},{"g":"K","s":6,"e":"Ti","v":2.8},{"g":"K","s":6,"e":"Gd","v":4.4},{"g":"K","s":6,"e":"Tb","v":4.2},{"g":"K","s":6,"e":"Dy","v":4.0},{"g":"K","s":6,"e":"Y","v":4.1},{"g":"K","s":6,"e":"Ho","v":3.3},{"g":"K","s":6,"e":"Er","v":3.3},{"g":"K","s":6,"e":"Tm","v":3.3},{"g":"K","s":6,"e":"Yb","v":3.4},{"g":"K","s":6,"e":"Lu","v":3.3}
],
"g":[
{"g":"S","s":1,"e":"La","v":123},{"g":"S","s":1,"e":"Ce","v":82},{"g":"S","s":1,"e":"Pr","v":61},{"g":"S","s":1,"e":"Nd","v":42.5},{"g":"S","s":1,"e":"Sm","v":21},{"g":"S","s":1,"e":"Eu","v":8.9},{"g":"S","s":1,"e":"Gd","v":13.9},{"g":"S","s":1,"e":"Tb","v":9.4},{"g":"S","s":1,"e":"Dy","v":7.8},{"g":"S","s":1,"e":"Ho","v":6.7},{"g":"S","s":1,"e":"Er","v":7.8},{"g":"S","s":1,"e":"Tm","v":7.8},{"g":"S","s":1,"e":"Yb","v":7.8},{"g":"S","s":1,"e":"Lu","v":7.8},
{"g":"M","s":2,"e":"La","v":105},{"g":"M","s":2,"e":"Ce","v":69},{"g":"M","s":2,"e":"Pr","v":52},{"g":"M","s":2,"e":"Nd","v":32},{"g":"M","s":2,"e":"Sm","v":16.3},{"g":"M","s":2,"e":"Eu","v":17.3},{"g":"M","s":2,"e":"Gd","v":12},{"g":"M","s":2,"e":"Tb","v":7.8},{"g":"M","s":2,"e":"Dy","v":5.1},{"g":"M","s":2,"e":"Ho","v":4.8},{"g":"M","s":2,"e":"Er","v":4.7},{"g":"M","s":2,"e":"Tm","v":4.3},{"g":"M","s":2,"e":"Yb","v":4.5},{"g":"M","s":2,"e":"Lu","v":4.8},
{"g":"M","s":3,"e":"La","v":96},{"g":"M","s":3,"e":"Ce","v":63},{"g":"M","s":3,"e":"Pr","v":49},{"g":"M","s":3,"e":"Nd","v":29.5},{"g":"M","s":3,"e":"Sm","v":12.8},{"g":"M","s":3,"e":"Eu","v":12.8},{"g":"M","s":3,"e":"Gd","v":7.8},{"g":"M","s":3,"e":"Tb","v":4.9},{"g":"M","s":3,"e":"Dy","v":2.9},{"g":"M","s":3,"e":"Ho","v":2.5},{"g":"M","s":3,"e":"Er","v":2.5},{"g":"M","s":3,"e":"Tm","v":2.5},{"g":"M","s":3,"e":"Yb","v":2.3},{"g":"M","s":3,"e":"Lu","v":2.4}
],
"h":[
{"g":"S","s":1,"e":"Rb","v":455},{"g":"S","s":1,"e":"Ba","v":87},{"g":"S","s":1,"e":"Th","v":360},{"g":"S","s":1,"e":"U","v":55},{"g":"S","s":1,"e":"Nb","v":21},{"g":"S","s":1,"e":"Ta","v":38},{"g":"S","s":1,"e":"K","v":300},{"g":"S","s":1,"e":"La","v":69},{"g":"S","s":1,"e":"Ce","v":44},{"g":"S","s":1,"e":"Pr","v":29},{"g":"S","s":1,"e":"Sr","v":3.6},{"g":"S","s":1,"e":"P","v":1.1},{"g":"S","s":1,"e":"Nd","v":22},{"g":"S","s":1,"e":"Zr","v":13},{"g":"S","s":1,"e":"Hf","v":15},{"g":"S","s":1,"e":"Sm","v":9.3},{"g":"S","s":1,"e":"Eu","v":3.7},{"g":"S","s":1,"e":"Ti","v":0.33},{"g":"S","s":1,"e":"Gd","v":5.5},{"g":"S","s":1,"e":"Tb","v":4.4},{"g":"S","s":1,"e":"Dy","v":3.0},{"g":"S","s":1,"e":"Y","v":2.9},{"g":"S","s":1,"e":"Ho","v":2.8},{"g":"S","s":1,"e":"Er","v":3.1},{"g":"S","s":1,"e":"Tm","v":3.4},{"g":"S","s":1,"e":"Yb","v":3.3},{"g":"S","s":1,"e":"Lu","v":3.1},
{"g":"M","s":2,"e":"Rb","v":323},{"g":"M","s":2,"e":"Ba","v":323},{"g":"M","s":2,"e":"Th","v":229},{"g":"M","s":2,"e":"U","v":186},{"g":"M","s":2,"e":"Nb","v":16.6},{"g":"M","s":2,"e":"Ta","v":22},{"g":"M","s":2,"e":"K","v":229},{"g":"M","s":2,"e":"La","v":54},{"g":"M","s":2,"e":"Ce","v":36},{"g":"M","s":2,"e":"Pr","v":25},{"g":"M","s":2,"e":"Sr","v":44},{"g":"M","s":2,"e":"P","v":6.8},{"g":"M","s":2,"e":"Nd","v":18.8},{"g":"M","s":2,"e":"Zr","v":20.5},{"g":"M","s":2,"e":"Hf","v":19},{"g":"M","s":2,"e":"Sm","v":8.3},{"g":"M","s":2,"e":"Eu","v":7.8},{"g":"M","s":2,"e":"Ti","v":2.2},{"g":"M","s":2,"e":"Gd","v":4.5},{"g":"M","s":2,"e":"Tb","v":3.2},{"g":"M","s":2,"e":"Dy","v":2.2},{"g":"M","s":2,"e":"Y","v":2.1},{"g":"M","s":2,"e":"Ho","v":2.0},{"g":"M","s":2,"e":"Er","v":1.9},{"g":"M","s":2,"e":"Tm","v":1.75},{"g":"M","s":2,"e":"Yb","v":1.7},{"g":"M","s":2,"e":"Lu","v":1.9},
{"g":"M","s":3,"e":"Rb","v":100},{"g":"M","s":3,"e":"Ba","v":174},{"g":"M","s":3,"e":"Th","v":151},{"g":"M","s":3,"e":"U","v":96},{"g":"M","s":3,"e":"Nb","v":12.6},{"g":"M","s":3,"e":"Ta","v":16.6},{"g":"M","s":3,"e":"K","v":71},{"g":"M","s":3,"e":"La","v":50},{"g":"M","s":3,"e":"Ce","v":31},{"g":"M","s":3,"e":"Pr","v":20.5},{"g":"M","s":3,"e":"Sr","v":41},{"g":"M","s":3,"e":"P","v":4.2},{"g":"M","s":3,"e":"Nd","v":17.8},{"g":"M","s":3,"e":"Zr","v":15.5},{"g":"M","s":3,"e":"Hf","v":15.5},{"g":"M","s":3,"e":"Sm","v":5.9},{"g":"M","s":3,"e":"Eu","v":5.5},{"g":"M","s":3,"e":"Ti","v":1.2},{"g":"M","s":3,"e":"Gd","v":3.0},{"g":"M","s":3,"e":"Tb","v":1.95},{"g":"M","s":3,"e":"Dy","v":1.2},{"g":"M","s":3,"e":"Y","v":1.1},{"g":"M","s":3,"e":"Ho","v":0.95},{"g":"M","s":3,"e":"Er","v":0.92},{"g":"M","s":3,"e":"Tm","v":0.89},{"g":"M","s":3,"e":"Yb","v":0.86},{"g":"M","s":3,"e":"Lu","v":0.87}
],
"i":[
{"g":"S","s":1,"e":"La","v":163},{"g":"S","s":1,"e":"Ce","v":144},{"g":"S","s":1,"e":"Pr","v":100},{"g":"S","s":1,"e":"Nd","v":61},{"g":"S","s":1,"e":"Sm","v":42.5},{"g":"S","s":1,"e":"Eu","v":7.6},{"g":"S","s":1,"e":"Gd","v":26},{"g":"S","s":1,"e":"Tb","v":23},{"g":"S","s":1,"e":"Dy","v":19},{"g":"S","s":1,"e":"Ho","v":17},{"g":"S","s":1,"e":"Er","v":19},{"g":"S","s":1,"e":"Tm","v":18},{"g":"S","s":1,"e":"Yb","v":19},{"g":"S","s":1,"e":"Lu","v":17},
{"g":"S","s":2,"e":"La","v":100},{"g":"S","s":2,"e":"Ce","v":100},{"g":"S","s":2,"e":"Pr","v":50},{"g":"S","s":2,"e":"Nd","v":35.5},{"g":"S","s":2,"e":"Sm","v":18},{"g":"S","s":2,"e":"Eu","v":6},{"g":"S","s":2,"e":"Gd","v":14},{"g":"S","s":2,"e":"Tb","v":13},{"g":"S","s":2,"e":"Dy","v":13},{"g":"S","s":2,"e":"Ho","v":12.5},{"g":"S","s":2,"e":"Er","v":13.5},{"g":"S","s":2,"e":"Tm","v":15},{"g":"S","s":2,"e":"Yb","v":15.5},{"g":"S","s":2,"e":"Lu","v":16.5},
{"g":"M","s":3,"e":"La","v":209},{"g":"M","s":3,"e":"Ce","v":178},{"g":"M","s":3,"e":"Pr","v":113},{"g":"M","s":3,"e":"Nd","v":81},{"g":"M","s":3,"e":"Sm","v":40},{"g":"M","s":3,"e":"Eu","v":19.6},{"g":"M","s":3,"e":"Gd","v":31},{"g":"M","s":3,"e":"Tb","v":24},{"g":"M","s":3,"e":"Dy","v":20.4},{"g":"M","s":3,"e":"Ho","v":18},{"g":"M","s":3,"e":"Er","v":20},{"g":"M","s":3,"e":"Tm","v":18},{"g":"M","s":3,"e":"Yb","v":19},{"g":"M","s":3,"e":"Lu","v":20},
{"g":"M","s":4,"e":"La","v":158},{"g":"M","s":4,"e":"Ce","v":144},{"g":"M","s":4,"e":"Pr","v":74},{"g":"M","s":4,"e":"Nd","v":50},{"g":"M","s":4,"e":"Sm","v":24},{"g":"M","s":4,"e":"Eu","v":14},{"g":"M","s":4,"e":"Gd","v":16},{"g":"M","s":4,"e":"Tb","v":11},{"g":"M","s":4,"e":"Dy","v":9.2},{"g":"M","s":4,"e":"Ho","v":8.3},{"g":"M","s":4,"e":"Er","v":9.2},{"g":"M","s":4,"e":"Tm","v":9.2},{"g":"M","s":4,"e":"Yb","v":9.7},{"g":"M","s":4,"e":"Lu","v":10}
],
"j":[
{"g":"S","s":1,"e":"Rb","v":670},{"g":"S","s":1,"e":"Ba","v":199},{"g":"S","s":1,"e":"Th","v":327},{"g":"S","s":1,"e":"U","v":396},{"g":"S","s":1,"e":"Nb","v":49},{"g":"S","s":1,"e":"Ta","v":95},{"g":"S","s":1,"e":"K","v":475},{"g":"S","s":1,"e":"La","v":158},{"g":"S","s":1,"e":"Ce","v":112},{"g":"S","s":1,"e":"Pr","v":79},{"g":"S","s":1,"e":"Sr","v":15},{"g":"S","s":1,"e":"P","v":8.7},{"g":"S","s":1,"e":"Nd","v":52},{"g":"S","s":1,"e":"Zr","v":58},{"g":"S","s":1,"e":"Hf","v":55},{"g":"S","s":1,"e":"Sm","v":28},{"g":"S","s":1,"e":"Eu","v":11.5},{"g":"S","s":1,"e":"Ti","v":2.0},{"g":"S","s":1,"e":"Gd","v":16.7},{"g":"S","s":1,"e":"Tb","v":13},{"g":"S","s":1,"e":"Dy","v":11.5},{"g":"S","s":1,"e":"Y","v":11},{"g":"S","s":1,"e":"Ho","v":10},{"g":"S","s":1,"e":"Er","v":10.7},{"g":"S","s":1,"e":"Tm","v":10},{"g":"S","s":1,"e":"Yb","v":10.7},{"g":"S","s":1,"e":"Lu","v":10},
{"g":"S","s":2,"e":"Rb","v":387},{"g":"S","s":2,"e":"Ba","v":199},{"g":"S","s":2,"e":"Th","v":300},{"g":"S","s":2,"e":"U","v":250},{"g":"S","s":2,"e":"Nb","v":45},{"g":"S","s":2,"e":"Ta","v":60},{"g":"S","s":2,"e":"K","v":315},{"g":"S","s":2,"e":"La","v":64},{"g":"S","s":2,"e":"Ce","v":64},{"g":"S","s":2,"e":"Pr","v":35},{"g":"S","s":2,"e":"Sr","v":10},{"g":"S","s":2,"e":"P","v":1.9},{"g":"S","s":2,"e":"Nd","v":23},{"g":"S","s":2,"e":"Zr","v":43},{"g":"S","s":2,"e":"Hf","v":35},{"g":"S","s":2,"e":"Sm","v":10},{"g":"S","s":2,"e":"Eu","v":2.8},{"g":"S","s":2,"e":"Ti","v":0.9},{"g":"S","s":2,"e":"Gd","v":8.3},{"g":"S","s":2,"e":"Tb","v":7.1},{"g":"S","s":2,"e":"Dy","v":7.6},{"g":"S","s":2,"e":"Y","v":8},{"g":"S","s":2,"e":"Ho","v":7.8},{"g":"S","s":2,"e":"Er","v":8},{"g":"S","s":2,"e":"Tm","v":8},{"g":"S","s":2,"e":"Yb","v":8},{"g":"S","s":2,"e":"Lu","v":8.5},
{"g":"M","s":3,"e":"Rb","v":510},{"g":"M","s":3,"e":"Ba","v":79},{"g":"M","s":3,"e":"Th","v":510},{"g":"M","s":3,"e":"U","v":255},{"g":"M","s":3,"e":"Nb","v":69},{"g":"M","s":3,"e":"Ta","v":49},{"g":"M","s":3,"e":"K","v":495},{"g":"M","s":3,"e":"La","v":138},{"g":"M","s":3,"e":"Ce","v":128},{"g":"M","s":3,"e":"Pr","v":64},{"g":"M","s":3,"e":"Sr","v":7.1},{"g":"M","s":3,"e":"P","v":1.45},{"g":"M","s":3,"e":"Nd","v":40},{"g":"M","s":3,"e":"Zr","v":60},{"g":"M","s":3,"e":"Hf","v":52},{"g":"M","s":3,"e":"Sm","v":26},{"g":"M","s":3,"e":"Eu","v":7.6},{"g":"M","s":3,"e":"Ti","v":1.55},{"g":"M","s":3,"e":"Gd","v":18.5},{"g":"M","s":3,"e":"Tb","v":14},{"g":"M","s":3,"e":"Dy","v":12.3},{"g":"M","s":3,"e":"Y","v":10.7},{"g":"M","s":3,"e":"Ho","v":10},{"g":"M","s":3,"e":"Er","v":11},{"g":"M","s":3,"e":"Tm","v":10.7},{"g":"M","s":3,"e":"Yb","v":10.5},{"g":"M","s":3,"e":"Lu","v":10.7},
{"g":"M","s":4,"e":"Rb","v":387},{"g":"M","s":4,"e":"Ba","v":200},{"g":"M","s":4,"e":"Th","v":314},{"g":"M","s":4,"e":"U","v":194},{"g":"M","s":4,"e":"Nb","v":20},{"g":"M","s":4,"e":"Ta","v":28},{"g":"M","s":4,"e":"K","v":314},{"g":"M","s":4,"e":"La","v":98},{"g":"M","s":4,"e":"Ce","v":79},{"g":"M","s":4,"e":"Pr","v":49},{"g":"M","s":4,"e":"Sr","v":2.9},{"g":"M","s":4,"e":"P","v":1.2},{"g":"M","s":4,"e":"Nd","v":28},{"g":"M","s":4,"e":"Zr","v":32},{"g":"M","s":4,"e":"Hf","v":37},{"g":"M","s":4,"e":"Sm","v":13.7},{"g":"M","s":4,"e":"Eu","v":3.8},{"g":"M","s":4,"e":"Ti","v":0.72},{"g":"M","s":4,"e":"Gd","v":13.2},{"g":"M","s":4,"e":"Tb","v":7.1},{"g":"M","s":4,"e":"Dy","v":5},{"g":"M","s":4,"e":"Y","v":4.7},{"g":"M","s":4,"e":"Ho","v":4.4},{"g":"M","s":4,"e":"Er","v":4.7},{"g":"M","s":4,"e":"Tm","v":5},{"g":"M","s":4,"e":"Yb","v":4.8},{"g":"M","s":4,"e":"Lu","v":5.4}
],
"k":[
{"g":"A","s":1,"e":"La","v":48},{"g":"A","s":1,"e":"Ce","v":42.5},{"g":"A","s":1,"e":"Pr","v":50},{"g":"A","s":1,"e":"Nd","v":45},{"g":"A","s":1,"e":"Sm","v":37.5},{"g":"A","s":1,"e":"Eu","v":3.4},{"g":"A","s":1,"e":"Gd","v":34.5},{"g":"A","s":1,"e":"Tb","v":37.5},{"g":"A","s":1,"e":"Dy","v":37.5},{"g":"A","s":1,"e":"Ho","v":34.5},{"g":"A","s":1,"e":"Er","v":34.5},{"g":"A","s":1,"e":"Tm","v":34.5},{"g":"A","s":1,"e":"Yb","v":34.5},{"g":"A","s":1,"e":"Lu","v":34.5},
{"g":"M","s":2,"e":"La","v":94},{"g":"M","s":2,"e":"Ce","v":63},{"g":"M","s":2,"e":"Pr","v":51},{"g":"M","s":2,"e":"Nd","v":32},{"g":"M","s":2,"e":"Sm","v":18.7},{"g":"M","s":2,"e":"Eu","v":8.1},{"g":"M","s":2,"e":"Gd","v":12.9},{"g":"M","s":2,"e":"Tb","v":11.7},{"g":"M","s":2,"e":"Dy","v":9.1},{"g":"M","s":2,"e":"Ho","v":8.6},{"g":"M","s":2,"e":"Er","v":9.1},{"g":"M","s":2,"e":"Tm","v":11},{"g":"M","s":2,"e":"Yb","v":11.5},{"g":"M","s":2,"e":"Lu","v":11},
{"g":"D","s":3,"e":"La","v":178},{"g":"D","s":3,"e":"Ce","v":144},{"g":"D","s":3,"e":"Pr","v":117},{"g":"D","s":3,"e":"Nd","v":92},{"g":"D","s":3,"e":"Sm","v":46},{"g":"D","s":3,"e":"Eu","v":27.6},{"g":"D","s":3,"e":"Gd","v":26},{"g":"D","s":3,"e":"Tb","v":18.7},{"g":"D","s":3,"e":"Dy","v":12.5},{"g":"D","s":3,"e":"Ho","v":10},{"g":"D","s":3,"e":"Er","v":11},{"g":"D","s":3,"e":"Tm","v":8.6},{"g":"D","s":3,"e":"Yb","v":7.9},{"g":"D","s":3,"e":"Lu","v":7.4}
],
"l":[
{"g":"A","s":1,"e":"Rb","v":920},{"g":"A","s":1,"e":"Ba","v":6.6},{"g":"A","s":1,"e":"Th","v":730},{"g":"A","s":1,"e":"U","v":730},{"g":"A","s":1,"e":"Nb","v":93},{"g":"A","s":1,"e":"Ta","v":131},{"g":"A","s":1,"e":"K","v":260},{"g":"A","s":1,"e":"La","v":30},{"g":"A","s":1,"e":"Ce","v":25},{"g":"A","s":1,"e":"Pr","v":25},{"g":"A","s":1,"e":"Sr","v":0.8},{"g":"A","s":1,"e":"P","v":0.59},{"g":"A","s":1,"e":"Nd","v":27},{"g":"A","s":1,"e":"Zr","v":25},{"g":"A","s":1,"e":"Hf","v":40},{"g":"A","s":1,"e":"Sm","v":23},{"g":"A","s":1,"e":"Eu","v":1.4},{"g":"A","s":1,"e":"Ti","v":0.35},{"g":"A","s":1,"e":"Gd","v":21.6},{"g":"A","s":1,"e":"Tb","v":22},{"g":"A","s":1,"e":"Dy","v":22},{"g":"A","s":1,"e":"Y","v":22},{"g":"A","s":1,"e":"Ho","v":20},{"g":"A","s":1,"e":"Er","v":20},{"g":"A","s":1,"e":"Tm","v":21},{"g":"A","s":1,"e":"Yb","v":21},{"g":"A","s":1,"e":"Lu","v":20},
{"g":"M","s":2,"e":"Rb","v":780},{"g":"M","s":2,"e":"Ba","v":81},{"g":"M","s":2,"e":"Th","v":635},{"g":"M","s":2,"e":"U","v":555},{"g":"M","s":2,"e":"Nb","v":36},{"g":"M","s":2,"e":"Ta","v":81},{"g":"M","s":2,"e":"K","v":405},{"g":"M","s":2,"e":"La","v":56},{"g":"M","s":2,"e":"Ce","v":40},{"g":"M","s":2,"e":"Pr","v":29},{"g":"M","s":2,"e":"Sr","v":4.4},{"g":"M","s":2,"e":"P","v":1.85},{"g":"M","s":2,"e":"Nd","v":20},{"g":"M","s":2,"e":"Zr","v":17},{"g":"M","s":2,"e":"Hf","v":21},{"g":"M","s":2,"e":"Sm","v":10.5},{"g":"M","s":2,"e":"Eu","v":4.2},{"g":"M","s":2,"e":"Ti","v":0.55},{"g":"M","s":2,"e":"Gd","v":6.9},{"g":"M","s":2,"e":"Tb","v":6},{"g":"M","s":2,"e":"Dy","v":4.9},{"g":"M","s":2,"e":"Y","v":4.9},{"g":"M","s":2,"e":"Ho","v":4.8},{"g":"M","s":2,"e":"Er","v":4.9},{"g":"M","s":2,"e":"Tm","v":6},{"g":"M","s":2,"e":"Yb","v":5.6},{"g":"M","s":2,"e":"Lu","v":6.3},
{"g":"D","s":3,"e":"Rb","v":420},{"g":"D","s":3,"e":"Ba","v":280},{"g":"D","s":3,"e":"Th","v":555},{"g":"D","s":3,"e":"U","v":420},{"g":"D","s":3,"e":"Nb","v":26},{"g":"D","s":3,"e":"Ta","v":30},{"g":"D","s":3,"e":"K","v":235},{"g":"D","s":3,"e":"La","v":123},{"g":"D","s":3,"e":"Ce","v":100},{"g":"D","s":3,"e":"Pr","v":81},{"g":"D","s":3,"e":"Sr","v":90},{"g":"D","s":3,"e":"P","v":30},{"g":"D","s":3,"e":"Nd","v":62},{"g":"D","s":3,"e":"Zr","v":58},{"g":"D","s":3,"e":"Hf","v":54},{"g":"D","s":3,"e":"Sm","v":30},{"g":"D","s":3,"e":"Eu","v":15},{"g":"D","s":3,"e":"Ti","v":7.4},{"g":"D","s":3,"e":"Gd","v":15.8},{"g":"D","s":3,"e":"Tb","v":10},{"g":"D","s":3,"e":"Dy","v":6.5},{"g":"D","s":3,"e":"Y","v":5.6},{"g":"D","s":3,"e":"Ho","v":5.2},{"g":"D","s":3,"e":"Er","v":4.9},{"g":"D","s":3,"e":"Tm","v":4.3},{"g":"D","s":3,"e":"Yb","v":3.8},{"g":"D","s":3,"e":"Lu","v":3.8}
]
},
"concat":[
{"width":347,"height":252,"title":{"text":"a"},"data":{"name":"a"},
 "encoding":{"x":{"field":"e","type":"ordinal","sort":null,"scale":{"type":"point","padding":0,"domain":["La","Ce","Pr","Nd","Sm","Eu","Gd","Tb","Dy","Ho","Er","Tm","Yb","Lu"]},"axis":{"labels":false}},
  "y":{"field":"v","type":"quantitative","scale":{"type":"log","domain":[0.1,1000],"nice":false},"axis":{"values":[0.1,1,10,100,1000],"title":"Sample/Chondrite"}}},
 "resolve":{"scale":{"shape":"independent","fill":"independent","stroke":"independent"}},
 "layer":[
  {"mark":{"type":"line","strokeWidth":1.1},"encoding":{"color":{"field":"g","type":"nominal","scale":{"range":["#6b3fa0"]},"legend":null},"detail":{"field":"s","type":"nominal"},"order":{"value":null}}},
  {"mark":{"type":"point","filled":true,"opacity":1,"size":38,"stroke":"#111","strokeWidth":0.5},"encoding":{"shape":{"field":"g","type":"nominal","scale":{"range":["circle"]},"legend":null},"fill":{"field":"g","type":"nominal","scale":{"range":["#111111"]},"legend":null}}},
  {"transform":[{"filter":"false"}],"mark":{"type":"point","filled":true,"opacity":1,"size":64,"strokeWidth":1.3},"encoding":{
   "shape":{"field":"g","type":"nominal","scale":{"domain":["H"],"range":["M-4.5,0H-0.9M0.9,0H4.5M-0.9,0A0.9,0.9 0 1,0 0.9,0A0.9,0.9 0 1,0 -0.9,0Z"]},"legend":{"title":null,"labelExpr":"'Hornblende gneiss'"}},
   "fill":{"field":"g","type":"nominal","scale":{"domain":["H"],"range":["#111111"]},"legend":{"title":null,"labelExpr":"'Hornblende gneiss'"}},
   "stroke":{"field":"g","type":"nominal","scale":{"domain":["H"],"range":["#6b3fa0"]},"legend":{"title":null,"labelExpr":"'Hornblende gneiss'"}}}}
 ]},
{"width":345,"height":252,"title":{"text":"b"},"data":{"name":"b"},
 "encoding":{"x":{"field":"e","type":"ordinal","sort":null,"scale":{"type":"point","padding":0,"domain":["Rb","Ba","Th","U","Nb","Ta","K","La","Ce","Pr","Sr","P","Nd","Zr","Hf","Sm","Eu","Ti","Gd","Tb","Dy","Y","Ho","Er","Tm","Yb","Lu"]},"axis":{"labels":false}},
  "y":{"field":"v","type":"quantitative","scale":{"type":"log","domain":[0.1,3000],"nice":false},"axis":{"values":[0.1,1,10,100,1000],"title":"Sample/N-MORB"}}},
 "resolve":{"scale":{"shape":"independent","fill":"independent","stroke":"independent"}},
 "layer":[
  {"mark":{"type":"line","strokeWidth":1.1},"encoding":{"color":{"field":"g","type":"nominal","scale":{"range":["#6b3fa0"]},"legend":null},"detail":{"field":"s","type":"nominal"},"order":{"value":null}}},
  {"mark":{"type":"point","filled":true,"opacity":1,"size":38,"stroke":"#111","strokeWidth":0.5},"encoding":{"shape":{"field":"g","type":"nominal","scale":{"range":["circle"]},"legend":null},"fill":{"field":"g","type":"nominal","scale":{"range":["#111111"]},"legend":null}}},
  {"transform":[{"filter":"false"}],"mark":{"type":"point","filled":true,"opacity":1,"size":64,"strokeWidth":1.3},"encoding":{
   "shape":{"field":"g","type":"nominal","scale":{"domain":["H"],"range":["M-4.5,0H-0.9M0.9,0H4.5M-0.9,0A0.9,0.9 0 1,0 0.9,0A0.9,0.9 0 1,0 -0.9,0Z"]},"legend":{"title":null,"labelExpr":"'Hornblende gneiss'"}},
   "fill":{"field":"g","type":"nominal","scale":{"domain":["H"],"range":["#111111"]},"legend":{"title":null,"labelExpr":"'Hornblende gneiss'"}},
   "stroke":{"field":"g","type":"nominal","scale":{"domain":["H"],"range":["#6b3fa0"]},"legend":{"title":null,"labelExpr":"'Hornblende gneiss'"}}}}
 ]},
{"width":347,"height":252,"title":{"text":"c"},"data":{"name":"c"},
 "encoding":{"x":{"field":"e","type":"ordinal","sort":null,"scale":{"type":"point","padding":0,"domain":["La","Ce","Pr","Nd","Sm","Eu","Gd","Tb","Dy","Ho","Er","Tm","Yb","Lu"]},"axis":{"labels":false}},
  "y":{"field":"v","type":"quantitative","scale":{"type":"log","domain":[0.1,1000],"nice":false},"axis":{"values":[0.1,1,10,100],"title":"Sample/Chondrite"}}},
 "resolve":{"scale":{"shape":"independent","fill":"independent","stroke":"independent"}},
 "layer":[
  {"mark":{"type":"line","strokeWidth":1.1},"encoding":{"color":{"field":"g","type":"nominal","scale":{"range":["#ec4f86"]},"legend":null},"detail":{"field":"s","type":"nominal"},"order":{"value":null}}},
  {"mark":{"type":"point","filled":true,"opacity":1,"size":115,"stroke":"#0a3340","strokeWidth":0.5},"encoding":{"shape":{"field":"g","type":"nominal","scale":{"range":["M0,-1L0.235,-0.324L0.951,-0.309L0.38,0.124L0.588,0.809L0,0.4L-0.588,0.809L-0.38,0.124L-0.951,-0.309L-0.235,-0.324Z"]},"legend":null},"fill":{"field":"g","type":"nominal","scale":{"range":["#11607a"]},"legend":null}}},
  {"transform":[{"filter":"false"}],"mark":{"type":"point","filled":true,"opacity":1,"size":64,"strokeWidth":1.3},"encoding":{
   "shape":{"field":"g","type":"nominal","scale":{"domain":["G"],"range":["M-4.5,0H-1.2M1.2,0H4.5M0,-1.4L0.33,-0.45L1.33,-0.43L0.53,0.17L0.82,1.13L0,0.56L-0.82,1.13L-0.53,0.17L-1.33,-0.43L-0.33,-0.45Z"]},"legend":{"title":null,"labelExpr":"'Gabbro'"}},
   "fill":{"field":"g","type":"nominal","scale":{"domain":["G"],"range":["#11607a"]},"legend":{"title":null,"labelExpr":"'Gabbro'"}},
   "stroke":{"field":"g","type":"nominal","scale":{"domain":["G"],"range":["#ec4f86"]},"legend":{"title":null,"labelExpr":"'Gabbro'"}}}}
 ]},
{"width":345,"height":252,"title":{"text":"d"},"data":{"name":"d"},
 "encoding":{"x":{"field":"e","type":"ordinal","sort":null,"scale":{"type":"point","padding":0,"domain":["Rb","Ba","Th","U","Nb","Ta","K","La","Ce","Pr","Sr","P","Nd","Zr","Hf","Sm","Eu","Ti","Gd","Tb","Dy","Y","Ho","Er","Tm","Yb","Lu"]},"axis":{"labels":false}},
  "y":{"field":"v","type":"quantitative","scale":{"type":"log","domain":[0.1,3000],"nice":false},"axis":{"values":[0.1,1,10,100],"title":"Sample/N-MORB"}}},
 "resolve":{"scale":{"shape":"independent","fill":"independent","stroke":"independent"}},
 "layer":[
  {"mark":{"type":"line","strokeWidth":1.1},"encoding":{"color":{"field":"g","type":"nominal","scale":{"range":["#ec4f86"]},"legend":null},"detail":{"field":"s","type":"nominal"},"order":{"value":null}}},
  {"mark":{"type":"point","filled":true,"opacity":1,"size":115,"stroke":"#0a3340","strokeWidth":0.5},"encoding":{"shape":{"field":"g","type":"nominal","scale":{"range":["M0,-1L0.235,-0.324L0.951,-0.309L0.38,0.124L0.588,0.809L0,0.4L-0.588,0.809L-0.38,0.124L-0.951,-0.309L-0.235,-0.324Z"]},"legend":null},"fill":{"field":"g","type":"nominal","scale":{"range":["#11607a"]},"legend":null}}},
  {"transform":[{"filter":"false"}],"mark":{"type":"point","filled":true,"opacity":1,"size":64,"strokeWidth":1.3},"encoding":{
   "shape":{"field":"g","type":"nominal","scale":{"domain":["G"],"range":["M-4.5,0H-1.2M1.2,0H4.5M0,-1.4L0.33,-0.45L1.33,-0.43L0.53,0.17L0.82,1.13L0,0.56L-0.82,1.13L-0.53,0.17L-1.33,-0.43L-0.33,-0.45Z"]},"legend":{"title":null,"labelExpr":"'Gabbro'"}},
   "fill":{"field":"g","type":"nominal","scale":{"domain":["G"],"range":["#11607a"]},"legend":{"title":null,"labelExpr":"'Gabbro'"}},
   "stroke":{"field":"g","type":"nominal","scale":{"domain":["G"],"range":["#ec4f86"]},"legend":{"title":null,"labelExpr":"'Gabbro'"}}}}
 ]},
{"width":347,"height":252,"title":{"text":"e"},"data":{"name":"e"},
 "encoding":{"x":{"field":"e","type":"ordinal","sort":null,"scale":{"type":"point","padding":0,"domain":["La","Ce","Pr","Nd","Sm","Eu","Gd","Tb","Dy","Ho","Er","Tm","Yb","Lu"]},"axis":{"labels":false}},
  "y":{"field":"v","type":"quantitative","scale":{"type":"log","domain":[0.1,1000],"nice":false},"axis":{"values":[0.1,1,10,100],"title":"Sample/Chondrite"}}},
 "resolve":{"scale":{"shape":"independent","fill":"independent","stroke":"independent"}},
 "layer":[
  {"mark":{"type":"line","strokeWidth":1.1},"encoding":{"color":{"field":"g","type":"nominal","scale":{"range":["#3b3bb0","#8ed18e"]},"legend":null},"detail":{"field":"s","type":"nominal"},"order":{"value":null}}},
  {"mark":{"type":"point","filled":true,"opacity":1,"size":45,"stroke":"#5a0a1e","strokeWidth":0.5},"encoding":{"shape":{"field":"g","type":"nominal","scale":{"range":["circle","square"]},"legend":null},"fill":{"field":"g","type":"nominal","scale":{"range":["#111111","#d81e4e"]},"legend":null}}},
  {"transform":[{"filter":"false"}],"mark":{"type":"point","filled":true,"opacity":1,"size":64,"strokeWidth":1.3},"encoding":{
   "shape":{"field":"g","type":"nominal","scale":{"domain":["M","K"],"range":["M-4.5,0H-0.9M0.9,0H4.5M-0.9,-0.9H0.9V0.9H-0.9Z","M-4.5,0H-0.9M0.9,0H4.5M-0.9,0A0.9,0.9 0 1,0 0.9,0A0.9,0.9 0 1,0 -0.9,0Z"]},"legend":{"title":null,"labelExpr":"datum.value == 'M' ? 'Monzonitic granite' : 'K-feldspar granite'"}},
   "fill":{"field":"g","type":"nominal","scale":{"domain":["M","K"],"range":["#d81e4e","#111111"]},"legend":{"title":null,"labelExpr":"datum.value == 'M' ? 'Monzonitic granite' : 'K-feldspar granite'"}},
   "stroke":{"field":"g","type":"nominal","scale":{"domain":["M","K"],"range":["#8ed18e","#3b3bb0"]},"legend":{"title":null,"labelExpr":"datum.value == 'M' ? 'Monzonitic granite' : 'K-feldspar granite'"}}}}
 ]},
{"width":345,"height":252,"title":{"text":"f"},"data":{"name":"f"},
 "encoding":{"x":{"field":"e","type":"ordinal","sort":null,"scale":{"type":"point","padding":0,"domain":["Rb","Ba","Th","U","Nb","Ta","K","La","Ce","Pr","Sr","P","Nd","Zr","Hf","Sm","Eu","Ti","Gd","Tb","Dy","Y","Ho","Er","Tm","Yb","Lu"]},"axis":{"labels":false}},
  "y":{"field":"v","type":"quantitative","scale":{"type":"log","domain":[0.1,3000],"nice":false},"axis":{"values":[0.1,1,10,100],"title":"Sample/N-MORB"}}},
 "resolve":{"scale":{"shape":"independent","fill":"independent","stroke":"independent"}},
 "layer":[
  {"mark":{"type":"line","strokeWidth":1.1},"encoding":{"color":{"field":"g","type":"nominal","scale":{"range":["#3b3bb0","#8ed18e"]},"legend":null},"detail":{"field":"s","type":"nominal"},"order":{"value":null}}},
  {"mark":{"type":"point","filled":true,"opacity":1,"size":45,"stroke":"#5a0a1e","strokeWidth":0.5},"encoding":{"shape":{"field":"g","type":"nominal","scale":{"range":["circle","square"]},"legend":null},"fill":{"field":"g","type":"nominal","scale":{"range":["#111111","#d81e4e"]},"legend":null}}},
  {"transform":[{"filter":"false"}],"mark":{"type":"point","filled":true,"opacity":1,"size":64,"strokeWidth":1.3},"encoding":{
   "shape":{"field":"g","type":"nominal","scale":{"domain":["M","K"],"range":["M-4.5,0H-0.9M0.9,0H4.5M-0.9,-0.9H0.9V0.9H-0.9Z","M-4.5,0H-0.9M0.9,0H4.5M-0.9,0A0.9,0.9 0 1,0 0.9,0A0.9,0.9 0 1,0 -0.9,0Z"]},"legend":{"title":null,"labelExpr":"datum.value == 'M' ? 'Monzonitic granite' : 'K-feldspar granite'"}},
   "fill":{"field":"g","type":"nominal","scale":{"domain":["M","K"],"range":["#d81e4e","#111111"]},"legend":{"title":null,"labelExpr":"datum.value == 'M' ? 'Monzonitic granite' : 'K-feldspar granite'"}},
   "stroke":{"field":"g","type":"nominal","scale":{"domain":["M","K"],"range":["#8ed18e","#3b3bb0"]},"legend":{"title":null,"labelExpr":"datum.value == 'M' ? 'Monzonitic granite' : 'K-feldspar granite'"}}}}
 ]},
{"width":347,"height":252,"title":{"text":"g"},"data":{"name":"g"},
 "encoding":{"x":{"field":"e","type":"ordinal","sort":null,"scale":{"type":"point","padding":0,"domain":["La","Ce","Pr","Nd","Sm","Eu","Gd","Tb","Dy","Ho","Er","Tm","Yb","Lu"]},"axis":{"labels":false}},
  "y":{"field":"v","type":"quantitative","scale":{"type":"log","domain":[0.1,1000],"nice":false},"axis":{"values":[0.1,1,10,100],"title":"Sample/Chondrite"}}},
 "resolve":{"scale":{"shape":"independent","fill":"independent","stroke":"independent"}},
 "layer":[
  {"mark":{"type":"line","strokeWidth":1.1},"encoding":{"color":{"field":"g","type":"nominal","scale":{"range":["#2ea98c","#7fa3d9"]},"legend":null},"detail":{"field":"s","type":"nominal"},"order":{"value":null}}},
  {"mark":{"type":"point","filled":true,"opacity":1,"size":60,"stroke":"#4a2020","strokeWidth":0.6},"encoding":{"shape":{"field":"g","type":"nominal","scale":{"range":["triangle-up","triangle-up"]},"legend":null},"fill":{"field":"g","type":"nominal","scale":{"range":["#1c214f","#f2a38f"]},"legend":null}}},
  {"transform":[{"filter":"false"}],"mark":{"type":"point","filled":true,"opacity":1,"size":64,"strokeWidth":1.3},"encoding":{
   "shape":{"field":"g","type":"nominal","scale":{"domain":["S","M"],"range":["M-4.5,0H-1.0M1.0,0H4.5M0,-1.1L1.1,0.85H-1.1Z","M-4.5,0H-1.0M1.0,0H4.5M0,-1.1L1.1,0.85H-1.1Z"]},"legend":{"title":null,"labelExpr":"datum.value == 'S' ? 'Syenogranite' : 'Monzonitic granite'"}},
   "fill":{"field":"g","type":"nominal","scale":{"domain":["S","M"],"range":["#f2a38f","#1c214f"]},"legend":{"title":null,"labelExpr":"datum.value == 'S' ? 'Syenogranite' : 'Monzonitic granite'"}},
   "stroke":{"field":"g","type":"nominal","scale":{"domain":["S","M"],"range":["#7fa3d9","#2ea98c"]},"legend":{"title":null,"labelExpr":"datum.value == 'S' ? 'Syenogranite' : 'Monzonitic granite'"}}}}
 ]},
{"width":345,"height":252,"title":{"text":"h"},"data":{"name":"h"},
 "encoding":{"x":{"field":"e","type":"ordinal","sort":null,"scale":{"type":"point","padding":0,"domain":["Rb","Ba","Th","U","Nb","Ta","K","La","Ce","Pr","Sr","P","Nd","Zr","Hf","Sm","Eu","Ti","Gd","Tb","Dy","Y","Ho","Er","Tm","Yb","Lu"]},"axis":{"labels":false}},
  "y":{"field":"v","type":"quantitative","scale":{"type":"log","domain":[0.1,3000],"nice":false},"axis":{"values":[0.1,1,10,100],"title":"Sample/N-MORB"}}},
 "resolve":{"scale":{"shape":"independent","fill":"independent","stroke":"independent"}},
 "layer":[
  {"mark":{"type":"line","strokeWidth":1.1},"encoding":{"color":{"field":"g","type":"nominal","scale":{"range":["#2ea98c","#7fa3d9"]},"legend":null},"detail":{"field":"s","type":"nominal"},"order":{"value":null}}},
  {"mark":{"type":"point","filled":true,"opacity":1,"size":60,"stroke":"#4a2020","strokeWidth":0.6},"encoding":{"shape":{"field":"g","type":"nominal","scale":{"range":["triangle-up","triangle-up"]},"legend":null},"fill":{"field":"g","type":"nominal","scale":{"range":["#1c214f","#f2a38f"]},"legend":null}}},
  {"transform":[{"filter":"false"}],"mark":{"type":"point","filled":true,"opacity":1,"size":64,"strokeWidth":1.3},"encoding":{
   "shape":{"field":"g","type":"nominal","scale":{"domain":["S","M"],"range":["M-4.5,0H-1.0M1.0,0H4.5M0,-1.1L1.1,0.85H-1.1Z","M-4.5,0H-1.0M1.0,0H4.5M0,-1.1L1.1,0.85H-1.1Z"]},"legend":{"title":null,"labelExpr":"datum.value == 'S' ? 'Syenogranite' : 'Monzonitic granite'"}},
   "fill":{"field":"g","type":"nominal","scale":{"domain":["S","M"],"range":["#f2a38f","#1c214f"]},"legend":{"title":null,"labelExpr":"datum.value == 'S' ? 'Syenogranite' : 'Monzonitic granite'"}},
   "stroke":{"field":"g","type":"nominal","scale":{"domain":["S","M"],"range":["#7fa3d9","#2ea98c"]},"legend":{"title":null,"labelExpr":"datum.value == 'S' ? 'Syenogranite' : 'Monzonitic granite'"}}}}
 ]},
{"width":347,"height":252,"title":{"text":"i"},"data":{"name":"i"},
 "encoding":{"x":{"field":"e","type":"ordinal","sort":null,"scale":{"type":"point","padding":0,"domain":["La","Ce","Pr","Nd","Sm","Eu","Gd","Tb","Dy","Ho","Er","Tm","Yb","Lu"]},"axis":{"labels":false}},
  "y":{"field":"v","type":"quantitative","scale":{"type":"log","domain":[0.1,1000],"nice":false},"axis":{"values":[0.1,1,10,100],"title":"Sample/Chondrite"}}},
 "resolve":{"scale":{"shape":"independent","fill":"independent","stroke":"independent"}},
 "layer":[
  {"mark":{"type":"line","strokeWidth":1.1},"encoding":{"color":{"field":"g","type":"nominal","scale":{"range":["#2bb07e","#f6a77a"]},"legend":null},"detail":{"field":"s","type":"nominal"},"order":{"value":null}}},
  {"mark":{"type":"point","filled":true,"opacity":1,"size":75,"stroke":"#0d2a3a","strokeWidth":0.5},"encoding":{"shape":{"field":"g","type":"nominal","scale":{"range":["M0,-1L0.866,-0.5L0.866,0.5L0,1L-0.866,0.5L-0.866,-0.5Z","M0,-1L0.951,-0.309L0.588,0.809L-0.588,0.809L-0.951,-0.309Z"]},"legend":null},"fill":{"field":"g","type":"nominal","scale":{"range":["#2a1b57","#1c9cbc"]},"legend":null}}},
  {"transform":[{"filter":"false"}],"mark":{"type":"point","filled":true,"opacity":1,"size":64,"strokeWidth":1.3},"encoding":{
   "shape":{"field":"g","type":"nominal","scale":{"domain":["S","M"],"range":["M-4.5,0H-1.0M1.0,0H4.5M0,-1.1L1.05,-0.34L0.65,0.89L-0.65,0.89L-1.05,-0.34Z","M-4.5,0H-1.0M1.0,0H4.5M0,-1.1L0.95,-0.55L0.95,0.55L0,1.1L-0.95,0.55L-0.95,-0.55Z"]},"legend":{"title":null,"labelExpr":"datum.value == 'S' ? 'Syenogranite' : 'Monzonitic granite'"}},
   "fill":{"field":"g","type":"nominal","scale":{"domain":["S","M"],"range":["#1c9cbc","#2a1b57"]},"legend":{"title":null,"labelExpr":"datum.value == 'S' ? 'Syenogranite' : 'Monzonitic granite'"}},
   "stroke":{"field":"g","type":"nominal","scale":{"domain":["S","M"],"range":["#f6a77a","#2bb07e"]},"legend":{"title":null,"labelExpr":"datum.value == 'S' ? 'Syenogranite' : 'Monzonitic granite'"}}}}
 ]},
{"width":345,"height":252,"title":{"text":"j"},"data":{"name":"j"},
 "encoding":{"x":{"field":"e","type":"ordinal","sort":null,"scale":{"type":"point","padding":0,"domain":["Rb","Ba","Th","U","Nb","Ta","K","La","Ce","Pr","Sr","P","Nd","Zr","Hf","Sm","Eu","Ti","Gd","Tb","Dy","Y","Ho","Er","Tm","Yb","Lu"]},"axis":{"labels":false}},
  "y":{"field":"v","type":"quantitative","scale":{"type":"log","domain":[0.1,3000],"nice":false},"axis":{"values":[0.1,1,10,100],"title":"Sample/N-MORB"}}},
 "resolve":{"scale":{"shape":"independent","fill":"independent","stroke":"independent"}},
 "layer":[
  {"mark":{"type":"line","strokeWidth":1.1},"encoding":{"color":{"field":"g","type":"nominal","scale":{"range":["#2bb07e","#f6a77a"]},"legend":null},"detail":{"field":"s","type":"nominal"},"order":{"value":null}}},
  {"mark":{"type":"point","filled":true,"opacity":1,"size":75,"stroke":"#0d2a3a","strokeWidth":0.5},"encoding":{"shape":{"field":"g","type":"nominal","scale":{"range":["M0,-1L0.866,-0.5L0.866,0.5L0,1L-0.866,0.5L-0.866,-0.5Z","M0,-1L0.951,-0.309L0.588,0.809L-0.588,0.809L-0.951,-0.309Z"]},"legend":null},"fill":{"field":"g","type":"nominal","scale":{"range":["#2a1b57","#1c9cbc"]},"legend":null}}},
  {"transform":[{"filter":"false"}],"mark":{"type":"point","filled":true,"opacity":1,"size":64,"strokeWidth":1.3},"encoding":{
   "shape":{"field":"g","type":"nominal","scale":{"domain":["S","M"],"range":["M-4.5,0H-1.0M1.0,0H4.5M0,-1.1L1.05,-0.34L0.65,0.89L-0.65,0.89L-1.05,-0.34Z","M-4.5,0H-1.0M1.0,0H4.5M0,-1.1L0.95,-0.55L0.95,0.55L0,1.1L-0.95,0.55L-0.95,-0.55Z"]},"legend":{"title":null,"labelExpr":"datum.value == 'S' ? 'Syenogranite' : 'Monzonitic granite'"}},
   "fill":{"field":"g","type":"nominal","scale":{"domain":["S","M"],"range":["#1c9cbc","#2a1b57"]},"legend":{"title":null,"labelExpr":"datum.value == 'S' ? 'Syenogranite' : 'Monzonitic granite'"}},
   "stroke":{"field":"g","type":"nominal","scale":{"domain":["S","M"],"range":["#f6a77a","#2bb07e"]},"legend":{"title":null,"labelExpr":"datum.value == 'S' ? 'Syenogranite' : 'Monzonitic granite'"}}}}
 ]},
{"width":347,"height":252,"title":{"text":"k"},"data":{"name":"k"},
 "encoding":{"x":{"field":"e","type":"ordinal","sort":null,"scale":{"type":"point","padding":0,"domain":["La","Ce","Pr","Nd","Sm","Eu","Gd","Tb","Dy","Ho","Er","Tm","Yb","Lu"]},"axis":{"labels":true}},
  "y":{"field":"v","type":"quantitative","scale":{"type":"log","domain":[0.1,1000],"nice":false},"axis":{"values":[0.1,1,10,100],"title":"Sample/Chondrite"}}},
 "resolve":{"scale":{"shape":"independent","fill":"independent","stroke":"independent"}},
 "layer":[
  {"mark":{"type":"line","strokeWidth":1.1},"encoding":{"color":{"field":"g","type":"nominal","scale":{"range":["#f29090","#f5a13a","#b9a9e2"]},"legend":null},"detail":{"field":"s","type":"nominal"},"order":{"value":null}}},
  {"mark":{"type":"point","filled":true,"opacity":1,"size":125,"stroke":"#2a0a14","strokeWidth":0.5},"encoding":{"shape":{"field":"g","type":"nominal","scale":{"range":["M0,-1L0.235,-0.324L0.951,-0.309L0.38,0.124L0.588,0.809L0,0.4L-0.588,0.809L-0.38,0.124L-0.951,-0.309L-0.235,-0.324Z"]},"legend":null},"fill":{"field":"g","type":"nominal","scale":{"range":["#9c1d33","#136178","#8f2463"]},"legend":null}}},
  {"transform":[{"filter":"false"}],"mark":{"type":"point","filled":true,"opacity":1,"size":64,"strokeWidth":1.3},"encoding":{
   "shape":{"field":"g","type":"nominal","scale":{"domain":["A","M","D"],"range":["M-4.5,0H-1.2M1.2,0H4.5M0,-1.4L0.33,-0.45L1.33,-0.43L0.53,0.17L0.82,1.13L0,0.56L-0.82,1.13L-0.53,0.17L-1.33,-0.43L-0.33,-0.45Z"]},"legend":{"title":null,"labelExpr":"datum.value == 'A' ? 'Alkali feldspar granite' : datum.value == 'M' ? 'Monzonitic granite' : 'Diorite'"}},
   "fill":{"field":"g","type":"nominal","scale":{"domain":["A","M","D"],"range":["#9c1d33","#8f2463","#136178"]},"legend":{"title":null,"labelExpr":"datum.value == 'A' ? 'Alkali feldspar granite' : datum.value == 'M' ? 'Monzonitic granite' : 'Diorite'"}},
   "stroke":{"field":"g","type":"nominal","scale":{"domain":["A","M","D"],"range":["#f29090","#b9a9e2","#f5a13a"]},"legend":{"title":null,"labelExpr":"datum.value == 'A' ? 'Alkali feldspar granite' : datum.value == 'M' ? 'Monzonitic granite' : 'Diorite'"}}}}
 ]},
{"width":345,"height":252,"title":{"text":"l"},"data":{"name":"l"},
 "encoding":{"x":{"field":"e","type":"ordinal","sort":null,"scale":{"type":"point","padding":0,"domain":["Rb","Ba","Th","U","Nb","Ta","K","La","Ce","Pr","Sr","P","Nd","Zr","Hf","Sm","Eu","Ti","Gd","Tb","Dy","Y","Ho","Er","Tm","Yb","Lu"]},"axis":{"labels":true,"labelFontSize":10.5}},
  "y":{"field":"v","type":"quantitative","scale":{"type":"log","domain":[0.1,3000],"nice":false},"axis":{"values":[0.1,1,10,100],"title":"Sample/N-MORB"}}},
 "resolve":{"scale":{"shape":"independent","fill":"independent","stroke":"independent"}},
 "layer":[
  {"mark":{"type":"line","strokeWidth":1.1},"encoding":{"color":{"field":"g","type":"nominal","scale":{"range":["#f29090","#f5a13a","#b9a9e2"]},"legend":null},"detail":{"field":"s","type":"nominal"},"order":{"value":null}}},
  {"mark":{"type":"point","filled":true,"opacity":1,"size":125,"stroke":"#2a0a14","strokeWidth":0.5},"encoding":{"shape":{"field":"g","type":"nominal","scale":{"range":["M0,-1L0.235,-0.324L0.951,-0.309L0.38,0.124L0.588,0.809L0,0.4L-0.588,0.809L-0.38,0.124L-0.951,-0.309L-0.235,-0.324Z"]},"legend":null},"fill":{"field":"g","type":"nominal","scale":{"range":["#9c1d33","#136178","#8f2463"]},"legend":null}}},
  {"transform":[{"filter":"false"}],"mark":{"type":"point","filled":true,"opacity":1,"size":64,"strokeWidth":1.3},"encoding":{
   "shape":{"field":"g","type":"nominal","scale":{"domain":["A","M","D"],"range":["M-4.5,0H-1.2M1.2,0H4.5M0,-1.4L0.33,-0.45L1.33,-0.43L0.53,0.17L0.82,1.13L0,0.56L-0.82,1.13L-0.53,0.17L-1.33,-0.43L-0.33,-0.45Z"]},"legend":{"title":null,"labelExpr":"datum.value == 'A' ? 'Alkali feldspar granite' : datum.value == 'M' ? 'Monzonitic granite' : 'Diorite'"}},
   "fill":{"field":"g","type":"nominal","scale":{"domain":["A","M","D"],"range":["#9c1d33","#8f2463","#136178"]},"legend":{"title":null,"labelExpr":"datum.value == 'A' ? 'Alkali feldspar granite' : datum.value == 'M' ? 'Monzonitic granite' : 'Diorite'"}},
   "stroke":{"field":"g","type":"nominal","scale":{"domain":["A","M","D"],"range":["#f29090","#b9a9e2","#f5a13a"]},"legend":{"title":null,"labelExpr":"datum.value == 'A' ? 'Alkali feldspar granite' : datum.value == 'M' ? 'Monzonitic granite' : 'Diorite'"}}}}
 ]}
]
}
